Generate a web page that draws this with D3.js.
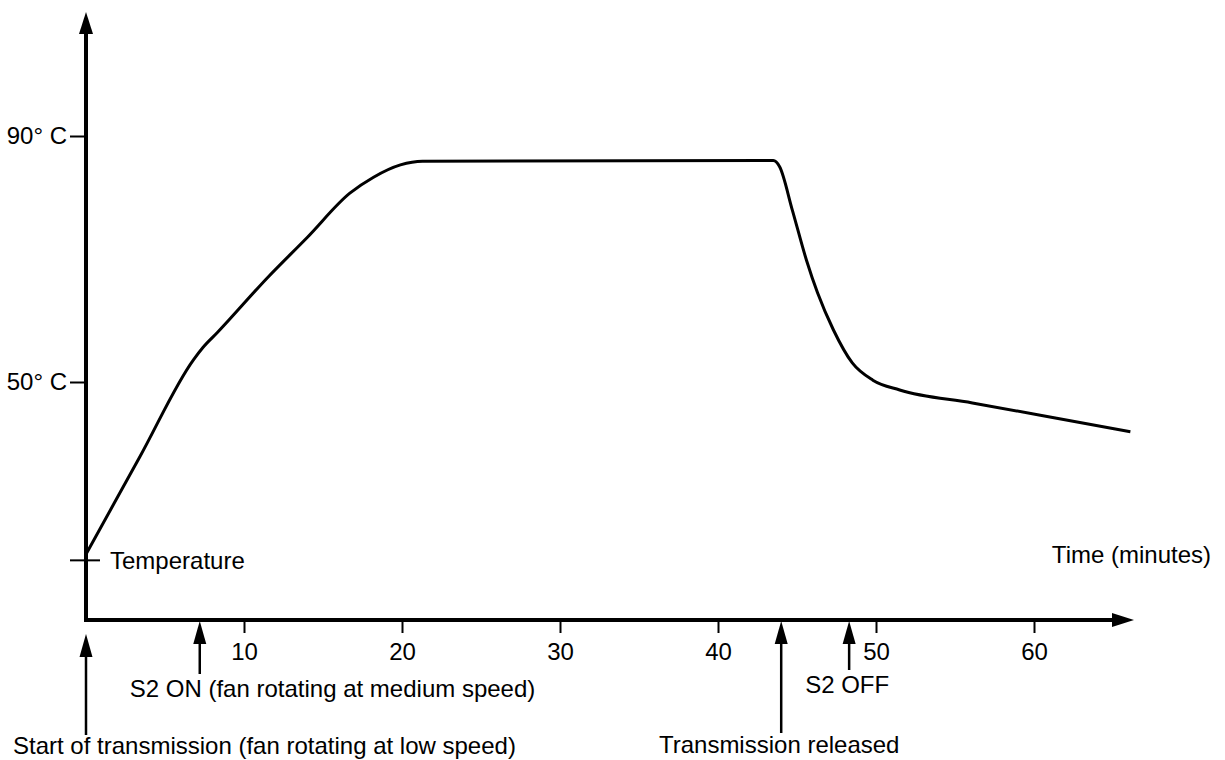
<!DOCTYPE html>
<html>
<head>
<meta charset="utf-8">
<script src="https://cdn.jsdelivr.net/npm/d3@7"></script>
<style>
  body { margin: 0; background: #fff; }
  svg text { font-family: "Liberation Sans", Arial, sans-serif; font-size: 24px; fill: #000; }
</style>
</head>
<body>
<svg id="chart" width="1225" height="760"></svg>
<script>
// time in minutes, temperature in degrees C
var times = [0, 3.4, 6.8, 7.4, 8.3, 11.5, 14.0, 16.7, 18.2, 19.9, 21.3, 43.5, 43.9, 44.7, 45.6, 46.3, 47.3, 48.5, 49.8, 51.5, 56.1, 60.4, 66.1];
var temps = [22, 37.8, 53.6, 55.6, 58.0, 67.0, 73.5, 80.7, 83.3, 85.3, 85.9, 86.0, 85.0, 78.0, 69.8, 64.5, 58.5, 53.1, 50.3, 48.7, 46.6, 44.6, 41.9];

var xTicks = [10, 20, 30, 40, 50, 60];
var yTicks = [50, 90];
var ambient = 21;

// events marked under the time axis
var events = [
    { t: 0, label: "Start of transmission (fan rotating at low speed)", tip: 634, end: 735, textY: 754, anchor: "start", dx: -73 },
    { t: 7.2, label: "S2 ON (fan rotating at medium speed)", tip: 621, end: 674, textY: 697, anchor: "start", dx: -70 },
    { t: 44, label: "Transmission released", tip: 621, end: 733, textY: 753, anchor: "middle", dx: -2 },
    { t: 48.3, label: "S2 OFF", tip: 621, end: 670, textY: 693, anchor: "middle", dx: -2 }
];

var data = times.map(function(t, i) { return { t: t, v: temps[i] }; });

var svg = d3.select("#chart");

var axisY = 620, axisX = 86;

var x = d3.scaleLinear().domain([0, 66]).range([axisX, axisX + 66 * 15.8]);
var y = d3.scaleLinear().domain([50, 90]).range([382, 136]);

// axes lines
svg.append("line")
    .attr("x1", axisX).attr("y1", axisY + 2)
    .attr("x2", axisX).attr("y2", 30)
    .attr("stroke", "#000").attr("stroke-width", 4);
svg.append("path")
    .attr("d", "M" + (axisX - 7) + ",34 L" + axisX + ",12 L" + (axisX + 7) + ",34 Z")
    .attr("fill", "#000");

svg.append("line")
    .attr("x1", axisX - 2).attr("y1", axisY)
    .attr("x2", 1116).attr("y2", axisY)
    .attr("stroke", "#000").attr("stroke-width", 4);
svg.append("path")
    .attr("d", "M1112," + (axisY - 7) + " L1134," + axisY + " L1112," + (axisY + 7) + " Z")
    .attr("fill", "#000");

// x ticks
var xAxis = svg.append("g")
    .attr("transform", "translate(0," + (axisY + 1) + ")")
    .call(d3.axisBottom(x).tickValues(xTicks).tickSize(12).tickPadding(10));
xAxis.select(".domain").remove();
xAxis.selectAll("line").attr("stroke", "#000").attr("stroke-width", 2);
xAxis.selectAll("text").attr("font-size", null).attr("font-family", null);

// y ticks
var yAxis = svg.append("g")
    .attr("transform", "translate(" + (axisX - 1) + ",0)")
    .call(d3.axisLeft(y).tickValues(yTicks).tickSize(15).tickPadding(3)
        .tickFormat(function(d) { return d + "\u00b0 C"; }));
yAxis.select(".domain").remove();
yAxis.selectAll("line").attr("stroke", "#000").attr("stroke-width", 2);
yAxis.selectAll("text").attr("font-size", null).attr("font-family", null);

// ambient temperature mark
svg.append("line")
    .attr("x1", axisX - 16).attr("x2", axisX + 14)
    .attr("y1", y(ambient)).attr("y2", y(ambient))
    .attr("stroke", "#000").attr("stroke-width", 2);
svg.append("text")
    .attr("x", axisX + 24).attr("y", y(ambient))
    .attr("dy", "0.35em")
    .text("Temperature");

svg.append("text")
    .attr("x", 1211).attr("y", 563)
    .attr("text-anchor", "end")
    .text("Time (minutes)");

// temperature curve
var line = d3.line()
    .x(function(d) { return x(d.t); })
    .y(function(d) { return y(d.v); })
    .curve(d3.curveMonotoneX);

svg.append("path")
    .datum(data)
    .attr("d", line)
    .attr("fill", "none")
    .attr("stroke", "#000")
    .attr("stroke-width", 3)
    .attr("stroke-linejoin", "round");

// event arrows
var ev = svg.append("g").selectAll("g")
    .data(events)
    .enter().append("g");

ev.append("line")
    .attr("x1", function(d) { return x(d.t); })
    .attr("x2", function(d) { return x(d.t); })
    .attr("y1", function(d) { return d.tip + 15; })
    .attr("y2", function(d) { return d.end; })
    .attr("stroke", "#000").attr("stroke-width", 2.5);
ev.append("path")
    .attr("d", function(d) {
        var cx = x(d.t);
        return "M" + (cx - 6.5) + "," + (d.tip + 23) + " L" + cx + "," + d.tip + " L" + (cx + 6.5) + "," + (d.tip + 23) + " Z";
    })
    .attr("fill", "#000");
ev.append("text")
    .attr("x", function(d) { return x(d.t) + d.dx; })
    .attr("y", function(d) { return d.textY; })
    .attr("text-anchor", function(d) { return d.anchor; })
    .text(function(d) { return d.label; });
</script>
</body>
</html>
